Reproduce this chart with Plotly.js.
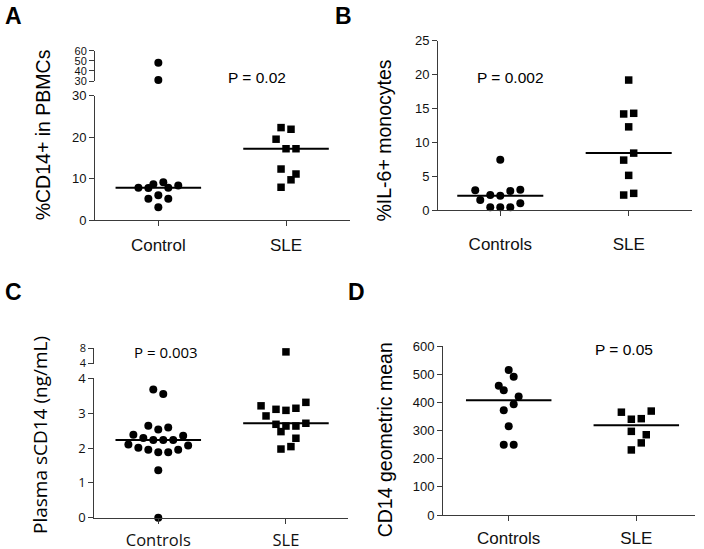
<!DOCTYPE html>
<html><head><meta charset="utf-8">
<script src="https://cdn.plot.ly/plotly-3.0.1.min.js"></script>
<style>html,body{margin:0;padding:0;background:#fff}#chart{width:704px;height:549px}</style>
</head><body><div id="chart"></div>
<script>
// ---------- DATA ----------
// Panel A: %CD14+ in PBMCs
const catsA = ['Control', 'SLE'];
const aControl = [48, 31, 7.8, 7.7, 8.6, 9.1, 7.8, 8.3, 5.1, 6.0, 5.1, 3.1];
const aControlSlot = [0, 0, -4, -2, -1, 1, 2, 4, -2, 0, 2, 0];
const aSLE = [22.3, 21.9, 19.5, 17.2, 17.2, 12.3, 11.1, 9.7, 7.9];
const aSLESlot = [-1, 1, -2, 0, 2, -1, 2, 1, -1];
const aP = 'P = 0.02';

// Panel B: %IL-6+ monocytes
const catsB = ['Controls', 'SLE'];
const bControls = [7.45, 2.94, 1.52, 2.25, 2.16, 2.84, 3.04, 0.44, 0.44, 0.44, 1.03];
const bControlsSlot = [0, -5, -4, -2, 0, 2, 4, -2, 0, 2, 4];
const bSLE = [19.2, 14.2, 14.3, 12.3, 8.43, 7.4, 5.15, 2.25, 2.5];
const bSLESlot = [0, -1, 1, 0, 1, -1, 0, -1, 1];
const bP = 'P = 0.002';

// Panel C: Plasma sCD14 (ng/mL)
const catsC = ['Controls', 'SLE'];
const cControls = [3.68, 3.55, 2.64, 2.53, 2.59, 2.38, 2.29, 2.23, 2.23, 2.23, 2.35, 2.10, 2.01, 1.95, 1.88, 1.88, 1.95, 2.07, 1.36, 0];
const cControlsSlot = [-1, 1, -2, 0, 2, -5, -3, -1, 1, 3, 5, -6, -4, -2, 0, 2, 4, 6, 0, 0];
const cSLE = [7, 3.21, 3.11, 3.08, 3.14, 3.31, 2.92, 2.68, 2.63, 2.63, 2.71, 2.47, 2.28, 2.04, 1.97];
const cSLESlot = [0, -5, -2, 0, 2, 4, -4, -2, 0, 2, 4, -1, 2, 1, -1];
const cP = 'P = 0.003';

// Panel D: CD14 geometric mean
const catsD = ['Controls', 'SLE'];
const dControls = [515, 491, 459, 443, 421, 393, 372, 315, 249, 249];
const dControlsSlot = [0, 1, -2, -1, 2, 1, -1, 0, -1, 1];
const dSLE = [365, 369, 340, 342, 297, 285, 256, 231];
const dSLESlot = [-3, 3, -1, 1, -1, 2, 1, -1];
const dP = 'P = 0.05';

// ---------- HELPERS ----------
const SLOT = 0.039;      // horizontal spread step (category units)
const HALF = 0.335;      // half width of median bar
const ARIAL = 'Liberation Sans, Arial, sans-serif';
const OPEN = 'Open Sans, sans-serif';
const AX = '#3a3a3a';

function median(a) {
  const s = a.slice().sort((p, q) => p - q);
  const n = s.length;
  return n % 2 ? s[(n - 1) / 2] : (s[n / 2 - 1] + s[n / 2]) / 2;
}

const traces = [];
function addGroup(vals, slots, idx, symbol, xa, ya, yaUpper, brk) {
  const lo = {x: [], y: []}, hi = {x: [], y: []};
  vals.forEach((v, i) => {
    const tgt = (yaUpper && v > brk) ? hi : lo;
    tgt.x.push(idx + slots[i] * SLOT);
    tgt.y.push(v);
  });
  const mk = {symbol: symbol, size: symbol === 'square' ? 7.5 : 8, color: '#000'};
  traces.push({type: 'scatter', mode: 'markers', x: lo.x, y: lo.y, xaxis: xa, yaxis: ya,
               marker: mk, cliponaxis: false, showlegend: false, hoverinfo: 'y'});
  if (hi.x.length) {
    traces.push({type: 'scatter', mode: 'markers', x: hi.x, y: hi.y, xaxis: xa, yaxis: yaUpper,
                 marker: mk, cliponaxis: false, showlegend: false, hoverinfo: 'y'});
  }
  const m = median(vals);
  traces.push({type: 'scatter', mode: 'lines', x: [idx - HALF, idx + HALF], y: [m, m],
               xaxis: xa, yaxis: ya, line: {color: '#000', width: 2}, showlegend: false, hoverinfo: 'skip'});
}

addGroup(aControl, aControlSlot, 0, 'circle', 'x', 'y', 'y5', 30);
addGroup(aSLE, aSLESlot, 1, 'square', 'x', 'y', 'y5', 30);
addGroup(bControls, bControlsSlot, 0, 'circle', 'x2', 'y2', null, 0);
addGroup(bSLE, bSLESlot, 1, 'square', 'x2', 'y2', null, 0);
addGroup(cControls, cControlsSlot, 0, 'circle', 'x3', 'y3', 'y6', 4);
addGroup(cSLE, cSLESlot, 1, 'square', 'x3', 'y3', 'y6', 4);
addGroup(dControls, dControlsSlot, 0, 'circle', 'x4', 'y4', null, 0);
addGroup(dSLE, dSLESlot, 1, 'square', 'x4', 'y4', null, 0);

function xAxis(dom, rng, cats, anchor, fam, fs, standoff) {
  return {domain: dom, range: rng, anchor: anchor, tickmode: 'array', tickvals: [0, 1], ticktext: cats,
          showline: true, linecolor: AX, linewidth: 1, ticks: 'outside', ticklen: 5, tickcolor: AX,
          showgrid: false, zeroline: false, fixedrange: true, ticklabelstandoff: standoff,
          tickfont: {family: fam, size: fs, color: '#111'}};
}
function yAxis(dom, rng, tv, anchor, fam, fs) {
  return {domain: dom, range: rng, anchor: anchor, tickmode: 'array', tickvals: tv,
          showline: true, linecolor: AX, linewidth: 1, ticks: 'outside', ticklen: 5, tickcolor: AX,
          showgrid: false, zeroline: false, fixedrange: true,
          tickfont: {family: fam, size: fs, color: '#111'}};
}
const H = 549, W = 704;
const px = v => v / W, py = v => 1 - v / H;

const layout = {
  width: W, height: H, margin: {l: 0, r: 0, t: 0, b: 0},
  paper_bgcolor: '#fff', plot_bgcolor: 'rgba(0,0,0,0)', showlegend: false,
  font: {family: ARIAL, color: '#111'},
  xaxis: xAxis([px(95), px(350)], [-0.496, 1.501], catsA, 'y', ARIAL, 17, 5),
  yaxis: yAxis([py(220), py(95.7)], [0, 30], [0, 10, 20, 30], 'x', ARIAL, 13),
  yaxis5: yAxis([py(81), py(50.7)], [30, 60], [30, 40, 50, 60], 'x', ARIAL, 11),
  xaxis2: xAxis([px(438), px(692)], [-0.485, 1.493], catsB, 'y2', ARIAL, 17, 13),
  yaxis2: yAxis([py(210.3), py(40.7)], [0, 25], [0, 5, 10, 15, 20, 25], 'x2', ARIAL, 13),
  xaxis3: xAxis([px(94.3), px(348)], [-0.501, 1.486], catsC, 'y3', OPEN, 16.5, 2),
  yaxis3: yAxis([py(517.7), py(378.3)], [0, 4], [0, 1, 2, 3, 4], 'x3', OPEN, 13),
  yaxis6: yAxis([py(363.5), py(348)], [4, 8], [4, 8], 'x3', OPEN, 11),
  xaxis4: xAxis([px(443), px(695)], [-0.515, 1.46], catsD, 'y4', ARIAL, 17, 3),
  yaxis4: yAxis([py(515), py(346)], [0, 600], [0, 100, 200, 300, 400, 500, 600], 'x4', ARIAL, 13),
  annotations: []
};

function note(text, x, y, fam, size, extra) {
  layout.annotations.push(Object.assign({text: text, x: px(x), y: py(y), xref: 'paper', yref: 'paper',
    showarrow: false, xanchor: 'center', yanchor: 'middle', font: {family: fam, size: size, color: '#000'}}, extra || {}));
}
// panel letters
note('<b>A</b>', 13, 16, ARIAL, 23);
note('<b>B</b>', 343, 16, ARIAL, 23);
note('<b>C</b>', 13, 292, ARIAL, 23);
note('<b>D</b>', 356, 292, ARIAL, 23);
// p-values
note(aP, 257, 78, ARIAL, 15.5);
note(bP, 510.3, 78, ARIAL, 15.5);
note(cP, 166, 351.7, OPEN, 15);
note(dP, 623.7, 349.3, ARIAL, 15.5);
// y titles
note('%CD14+ in PBMCs', 43.3, 135, ARIAL, 19.5, {textangle: -90});
note('%IL-6+ monocytes', 383.7, 140.8, ARIAL, 19.5, {textangle: -90});
note('Plasma sCD14 (ng/mL)', 40, 435, OPEN, 19, {textangle: -90});
note('CD14 geometric mean', 385.3, 440, ARIAL, 19.5, {textangle: -90});

Plotly.newPlot('chart', traces, layout, {staticPlot: true, displayModeBar: false});
</script>
</body></html>
